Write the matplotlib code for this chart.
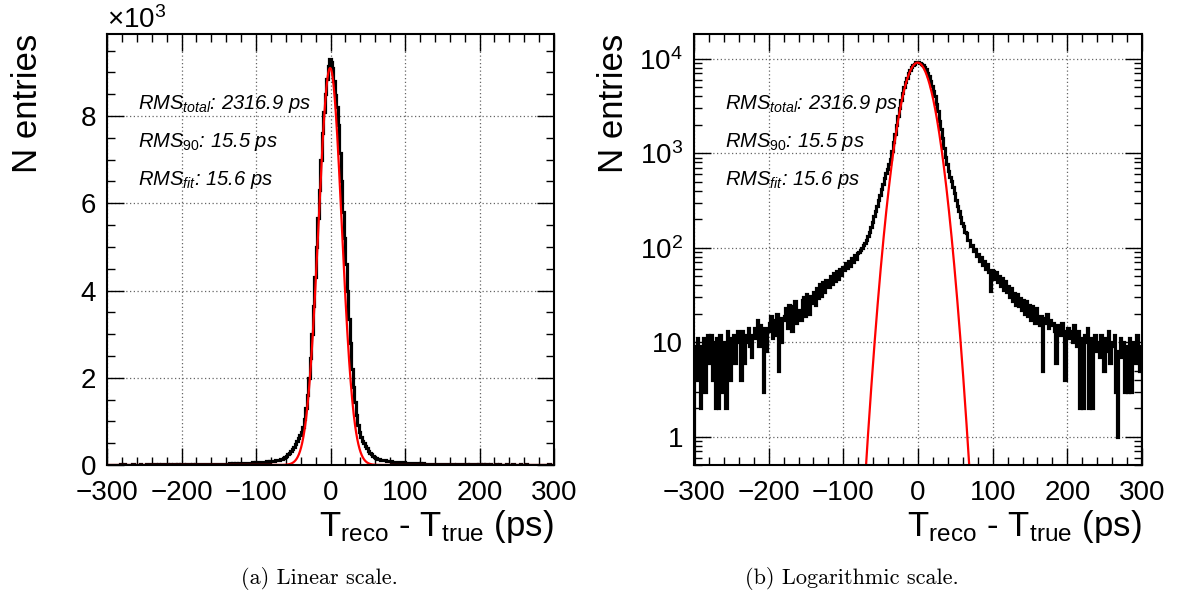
import numpy as np
import matplotlib
matplotlib.use("Agg")
import matplotlib.pyplot as plt
from matplotlib.ticker import MultipleLocator, FixedLocator, FuncFormatter, LogLocator, NullFormatter

plt.rcParams["font.family"] = ["Liberation Sans", "DejaVu Sans"]
plt.rcParams["mathtext.fontset"] = "custom"
plt.rcParams["mathtext.rm"] = "Liberation Sans"
plt.rcParams["mathtext.it"] = "Liberation Sans:italic"
plt.rcParams["mathtext.bf"] = "Liberation Sans:bold"

# ---- histogram: T_reco - T_true, 2 ps bins from -300 to 300 ps ----
bin_edges = np.arange(-300, 302, 2)

counts_left_tail = [
    9, 4, 11, 6, 2, 9, 11, 3, 8, 12,          # -299 .. -281
    6, 12, 4, 10, 2, 11, 2, 12, 9, 3,         # -279 .. -261
    10, 2, 13, 11, 4, 9, 12, 6, 10, 13,       # -259 .. -241
    11, 4, 13, 6, 12, 10, 14, 9, 7, 12,       # -239 .. -221
    14, 11, 17, 9, 15, 12, 3, 14, 8, 13,      # -219 .. -201
    16, 19, 11, 17, 12, 20, 5, 18, 10, 17,    # -199 .. -181
    19, 23, 14, 25, 18, 13, 24, 27, 16, 22,   # -179 .. -161
    22, 17, 28, 30, 19, 32, 24, 20, 31, 26,   # -159 .. -141
    34, 25, 37, 29, 41, 31, 43, 34, 45, 40,   # -139 .. -121
    38, 50, 41, 54, 44, 57, 47, 60, 51, 63,   # -119 .. -101
]
counts_core = [
    58, 68, 61, 72, 64, 78, 70, 83, 76, 88,                       # -99 .. -81
    89, 95, 100, 107, 112, 122, 133, 148, 164, 186,               # -79 .. -61
    214, 243, 278, 318, 362, 418, 478, 545, 612, 685,             # -59 .. -41
    762, 872, 1048, 1304, 1598, 2005, 2452, 3006, 3652, 4305,     # -39 .. -21
    5004, 5652, 6310, 6995, 7604, 8098, 8512, 8854, 9146, 9312,   # -19 .. -1
    9248, 9095, 8807, 8493, 8196, 7803, 7148, 6502, 5797, 5198,   # 1 .. 19
    4603, 3997, 3352, 2796, 2205, 1797, 1452, 1148, 921, 763,     # 21 .. 39
    642, 557, 503, 437, 381, 322, 278, 247, 213, 184,             # 41 .. 59
    170, 145, 143, 120, 122, 104, 107, 92, 96, 82,                # 61 .. 79
    86, 73, 79, 66, 73, 60, 67, 55, 35, 58,                       # 81 .. 99
]
counts_right_tail = [
    57, 47, 55, 43, 50, 39, 48, 36, 44, 34,   # 101 .. 119
    39, 30, 37, 27, 33, 25, 32, 24, 29, 22,   # 121 .. 139
    28, 20, 27, 19, 25, 17, 24, 18, 16, 23,   # 141 .. 159
    17, 15, 19, 5, 18, 16, 20, 14, 17, 15,    # 161 .. 179
    16, 13, 6, 15, 14, 12, 16, 13, 4, 12,     # 181 .. 199
    14, 11, 13, 10, 15, 12, 9, 13, 2, 11,     # 201 .. 219
    2, 12, 10, 14, 2, 11, 2, 9, 12, 8,        # 221 .. 239
    10, 7, 12, 9, 5, 11, 8, 13, 6, 10,        # 241 .. 259
    9, 12, 3, 1, 8, 11, 7, 10, 3, 9,          # 261 .. 279
    3, 11, 3, 8, 10, 6, 12, 7, 5, 9,          # 281 .. 299
]
counts = np.array(counts_left_tail + counts_core + counts_right_tail, dtype=float)

# ---- Gaussian fit ----
fit_amplitude = 9100.0
fit_mean = -0.5
fit_sigma = 15.6

rms_labels = [
    r"$RMS_{total}$: 2316.9 ps",
    r"$RMS_{90}$: 15.5 ps",
    r"$RMS_{fit}$: 15.6 ps",
]
rms_label_y = [0.826, 0.738, 0.649]

x_ticks = [-300, -200, -100, 0, 100, 200, 300]
lin_y_ticks = [0, 2000, 4000, 6000, 8000]
log_y_ticks = [1, 10, 100, 1000, 10000]

x_fit = np.linspace(-300, 300, 1201)
y_fit = fit_amplitude * np.exp(-0.5 * ((x_fit - fit_mean) / fit_sigma) ** 2)

fig = plt.figure(figsize=(11.78, 6.03), dpi=100)
ax_lin = fig.add_axes([107 / 1178, 1 - 465 / 603, 447 / 1178, 431 / 603])
ax_log = fig.add_axes([694 / 1178, 1 - 465 / 603, 448 / 1178, 431 / 603])

TICK_FS = 20
LABEL_FS = 25
grid_kw = dict(color="#666666", linestyle=(0, (1, 2)), linewidth=0.9)


def style_axes(ax, ylabel_x):
    ax.set_xlim(-300, 300)
    ax.xaxis.set_major_locator(FixedLocator(x_ticks))
    ax.xaxis.set_minor_locator(MultipleLocator(20))
    ax.tick_params(which="both", direction="in", top=True, right=True,
                   labelsize=TICK_FS, width=1.0, color="black")
    ax.tick_params(which="major", length=12)
    ax.tick_params(which="minor", length=6)
    ax.tick_params(axis="x", which="major", pad=11)
    ax.tick_params(axis="y", which="major", pad=8)
    for s in ax.spines.values():
        s.set_linewidth(1.5)
    ax.grid(True, which="major", **grid_kw)
    ax.set_axisbelow(True)
    ax.set_xlabel(r"T$_{\mathrm{reco}}$ - T$_{\mathrm{true}}$ (ps)",
                  fontsize=LABEL_FS, loc="right", labelpad=1)
    ax.set_ylabel("N entries", fontsize=LABEL_FS, loc="top")
    ax.yaxis.set_label_coords(ylabel_x, 1.0)
    for lab, yy in zip(rms_labels, rms_label_y):
        ax.text(0.07, yy, lab, transform=ax.transAxes, fontsize=14.5,
                style="italic", ha="left", va="baseline")


# linear panel
ax_lin.stairs(counts, bin_edges, color="black", linewidth=2.3)
ax_lin.plot(x_fit, y_fit, color="red", linewidth=1.6)
ax_lin.set_ylim(0, 9880)
ax_lin.yaxis.set_major_locator(FixedLocator(lin_y_ticks))
ax_lin.yaxis.set_minor_locator(MultipleLocator(500))
ax_lin.yaxis.set_major_formatter(FuncFormatter(lambda v, p: f"{v / 1000:g}"))
style_axes(ax_lin, -0.142)
ax_lin.text(0.0, 1.0, r"$\times$10$^{3}$", transform=ax_lin.transAxes,
            fontsize=TICK_FS, ha="left", va="bottom")

# logarithmic panel
ax_log.stairs(counts, bin_edges, color="black", linewidth=2.3)
ax_log.plot(x_fit, y_fit, color="red", linewidth=1.6)
ax_log.set_yscale("log")
ax_log.set_ylim(0.5, 1.83e4)
ax_log.yaxis.set_major_locator(FixedLocator(log_y_ticks))
ax_log.yaxis.set_minor_locator(LogLocator(base=10, subs=np.arange(2, 10)))
ax_log.yaxis.set_minor_formatter(NullFormatter())


def log_fmt(v, p):
    e = int(round(np.log10(v)))
    if e == 0:
        return "1"
    if e == 1:
        return "10"
    return r"10$^{%d}$" % e


ax_log.yaxis.set_major_formatter(FuncFormatter(log_fmt))
style_axes(ax_log, -0.143)

fig.text(319 / 1178, 1 - 578 / 603, "(a) Linear scale.", family="cmr10",
         fontsize=16, ha="center", va="center")
fig.text(852 / 1178, 1 - 578 / 603, "(b) Logarithmic scale.", family="cmr10",
         fontsize=16, ha="center", va="center")

fig.savefig("out.png", dpi=100)
